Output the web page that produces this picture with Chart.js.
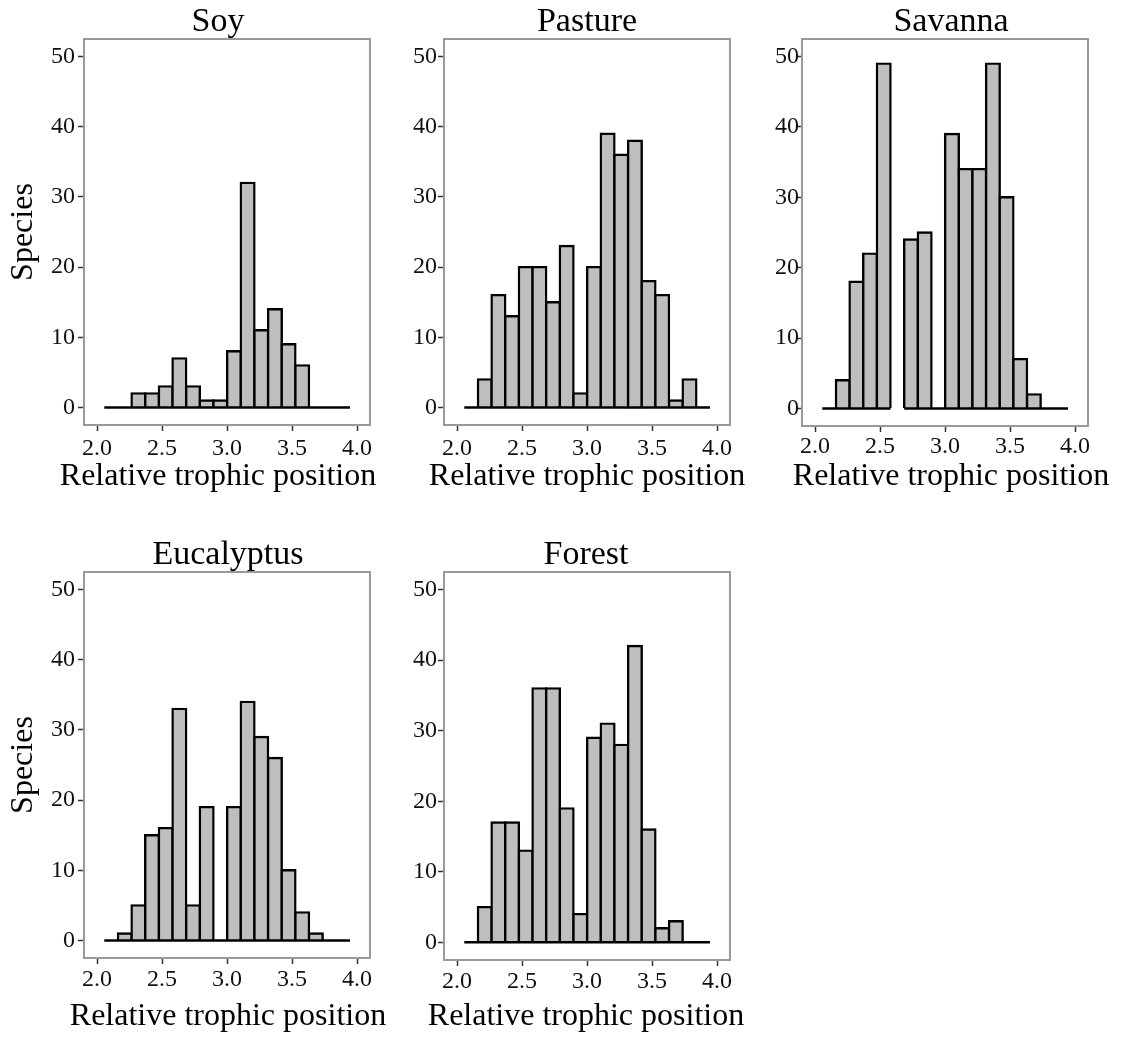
<!DOCTYPE html>
<html>
<head>
<meta charset="utf-8">
<title>Relative trophic position by land use</title>
<script src="https://cdn.jsdelivr.net/npm/chart.js@4/dist/chart.umd.min.js"></script>
<style>
  html, body { margin: 0; padding: 0; background: #ffffff; }
  body { position: relative; width: 1121px; height: 1039px; overflow: hidden; }
  canvas { position: absolute; }
</style>
</head>
<body>
<canvas id="soy"></canvas>
<canvas id="pasture"></canvas>
<canvas id="savanna"></canvas>
<canvas id="eucalyptus"></canvas>
<canvas id="forest"></canvas>
<script>
// Histogram bin edges (relative trophic position), shared by every land use
const binEdges = [2.056, 2.161, 2.266, 2.371, 2.476, 2.581, 2.686, 2.791, 2.896, 3.001,
                  3.106, 3.211, 3.316, 3.421, 3.526, 3.631, 3.736, 3.841, 3.946];

// Number of species per bin (null = bin not drawn)
const soyCounts        = [0, 0, 2, 2, 3, 7, 3, 1, 1, 8, 32, 11, 14, 9, 6, 0, 0, 0];
const pastureCounts    = [0, 4, 16, 13, 20, 20, 15, 23, 2, 20, 39, 36, 38, 18, 16, 1, 4, 0];
const savannaCounts    = [0, 4, 18, 22, 49, null, 24, 25, 0, 39, 34, 34, 49, 30, 7, 2, 0, 0];
const eucalyptusCounts = [0, 1, 5, 15, 16, 33, 5, 19, 0, 19, 34, 29, 26, 10, 4, 1, 0, 0];
const forestCounts     = [0, 5, 17, 17, 13, 36, 36, 19, 4, 29, 31, 28, 42, 16, 2, 3, 0, 0];

const xTickValues = [2.0, 2.5, 3.0, 3.5, 4.0];
const yTickValues = [0, 10, 20, 30, 40, 50];
const xAxisTitle = 'Relative trophic position';
const yAxisTitle = 'Species';

// Panel placement on the page
const panels = [
  { id: 'soy',        title: 'Soy',        counts: soyCounts,        left: 0,   top: 0,   width: 436, height: 498, yW: 84, rW: 66, showY: true,  yPad: 3,  xPad: 3, subPad: 1 },
  { id: 'pasture',    title: 'Pasture',    counts: pastureCounts,    left: 384, top: 0,   width: 406, height: 498, yW: 60, rW: 60, showY: false, yPad: 1,  xPad: 3, subPad: 1 },
  { id: 'savanna',    title: 'Savanna',    counts: savannaCounts,    left: 742, top: 0,   width: 418, height: 498, yW: 60, rW: 72, showY: false, yPad: -3, xPad: 0, subPad: 0 },
  { id: 'eucalyptus', title: 'Eucalyptus', counts: eucalyptusCounts, left: 0,   top: 533, width: 456, height: 505, yW: 84, rW: 86, showY: true,  yPad: 3,  xPad: 1, subPad: 8 },
  { id: 'forest',     title: 'Forest',     counts: forestCounts,     left: 384, top: 533, width: 404, height: 505, yW: 60, rW: 58, showY: false, yPad: 1,  xPad: 1, subPad: 6 }
];

const SERIF = "'Liberation Serif', 'Times New Roman', serif";
const PANEL_BORDER = '#999999';
const TICK_COLOR = '#333333';
const TEXT_COLOR = '#111111';

function binCenter(i) { return (binEdges[i] + binEdges[i + 1]) / 2; }

function barPoints(counts) {
  return counts.map((c, i) => ({ x: binCenter(i), y: c && c > 0 ? c : null }));
}

// Zero line under the histogram, broken where a bin is missing
function baselinePoints(counts) {
  const pts = [];
  counts.forEach((c, i) => {
    if (c === null) {
      pts.push({ x: binCenter(i), y: null });
    } else {
      pts.push({ x: binEdges[i], y: 0 }, { x: binEdges[i + 1], y: 0 });
    }
  });
  return pts;
}

Chart.defaults.font.family = SERIF;
Chart.defaults.color = TEXT_COLOR;

panels.forEach(p => {
  const canvas = document.getElementById(p.id);
  canvas.width = p.width;
  canvas.height = p.height;
  canvas.style.left = p.left + 'px';
  canvas.style.top = p.top + 'px';
  canvas.style.width = p.width + 'px';
  canvas.style.height = p.height + 'px';

  new Chart(canvas, {
    type: 'bar',
    data: {
      datasets: [
        {
          type: 'line',
          data: baselinePoints(p.counts),
          borderColor: '#000000',
          borderWidth: 2.5,
          borderCapStyle: 'butt',
          pointRadius: 0,
          spanGaps: false,
          fill: false
        },
        {
          type: 'bar',
          data: barPoints(p.counts),
          backgroundColor: '#bebebe',
          borderColor: '#000000',
          borderWidth: 2.4,
          borderSkipped: 'bottom',
          inflateAmount: 1.2,
          barPercentage: 1,
          categoryPercentage: 1
        }
      ]
    },
    options: {
      responsive: false,
      animation: false,
      devicePixelRatio: 1,
      layout: { padding: 0 },
      plugins: {
        legend: { display: false },
        tooltip: { enabled: false },
        title: {
          display: true,
          text: p.title,
          color: '#000000',
          font: { family: SERIF, size: 34, weight: 'normal', lineHeight: 1 },
          padding: { top: 5, bottom: 0 }
        },
        subtitle: {
          display: true,
          position: 'bottom',
          text: xAxisTitle,
          color: '#000000',
          font: { family: SERIF, size: 32, weight: 'normal', lineHeight: 1 },
          padding: { top: p.subPad, bottom: 5 }
        }
      },
      scales: {
        x: {
          type: 'linear',
          position: 'bottom',
          min: 1.9,
          max: 4.1,
          offset: false,
          afterBuildTicks: s => { s.ticks = xTickValues.map(v => ({ value: v })); },
          afterFit: s => { s.height = 35; },
          ticks: {
            autoSkip: false,
            maxRotation: 0,
            minRotation: 0,
            padding: p.xPad,
            color: TEXT_COLOR,
            font: { family: SERIF, size: 24 },
            callback: v => Number(v).toFixed(1)
          },
          grid: { offset: false, drawOnChartArea: false, drawTicks: true, tickLength: 6, tickWidth: 1.5, tickColor: TICK_COLOR },
          border: { display: true, color: PANEL_BORDER, width: 2 }
        },
        xTop: {
          type: 'linear',
          position: 'top',
          min: 1.9,
          max: 4.1,
          afterFit: s => { s.height = 0; },
          ticks: { display: false },
          grid: { display: false, drawTicks: false },
          border: { display: true, color: PANEL_BORDER, width: 2 }
        },
        y: {
          type: 'linear',
          position: 'left',
          min: -2.5,
          max: 52.5,
          afterBuildTicks: s => { s.ticks = yTickValues.map(v => ({ value: v })); },
          afterFit: s => { s.width = p.yW; },
          ticks: {
            padding: p.yPad,
            color: TEXT_COLOR,
            font: { family: SERIF, size: 24 },
            callback: v => String(v)
          },
          grid: { drawOnChartArea: false, drawTicks: true, tickLength: 6, tickWidth: 1.5, tickColor: TICK_COLOR },
          border: { display: true, color: PANEL_BORDER, width: 2 },
          title: {
            display: p.showY,
            text: yAxisTitle,
            color: '#000000',
            font: { family: SERIF, size: 32, weight: 'normal', lineHeight: 1 },
            padding: { top: 8, bottom: 0 }
          }
        },
        yRight: {
          type: 'linear',
          position: 'right',
          min: -2.5,
          max: 52.5,
          afterFit: s => { s.width = p.rW; },
          ticks: { display: false },
          grid: { display: false, drawTicks: false },
          border: { display: true, color: PANEL_BORDER, width: 2 }
        }
      }
    }
  });
});
</script>
</body>
</html>
